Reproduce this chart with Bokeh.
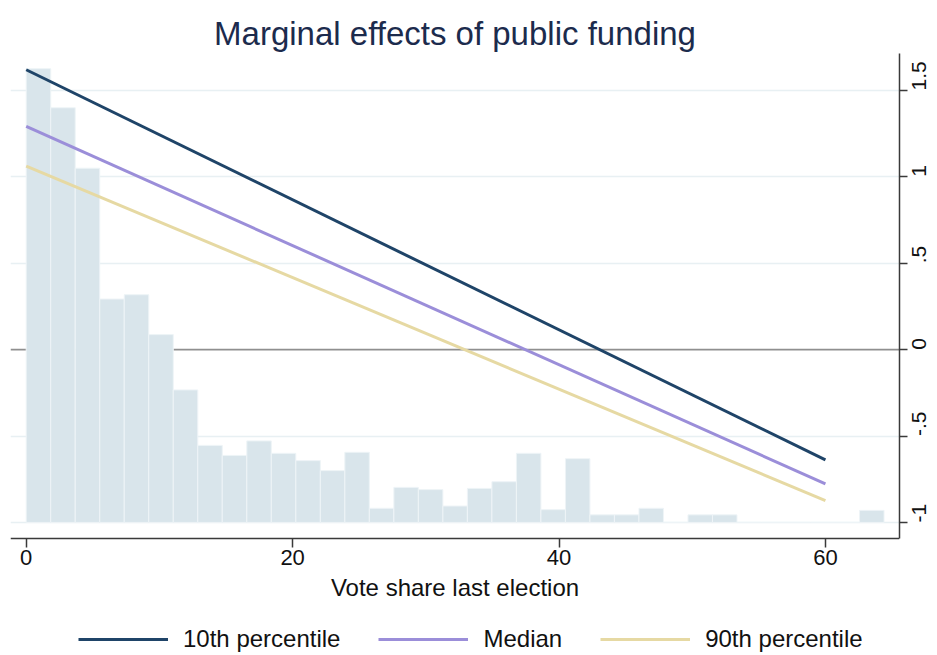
import math
from bokeh.plotting import figure
from bokeh.models import (Range1d, FixedTicker, Legend, LegendItem, Span,
                          CustomJSTickFormatter, ColumnDataSource)
from bokeh.embed import file_html
from bokeh.resources import INLINE

# ---------------- data ----------------
# histogram of vote share (bars drawn upward from y = -1 on the effect axis)
bin_start = 0.0
bin_width = 1.84
hist_heights = [2.626, 2.40, 2.05, 1.293, 1.318, 1.087, 0.767, 0.446, 0.388,
                0.472, 0.400, 0.358, 0.30, 0.406, 0.082, 0.203, 0.190, 0.095,
                0.197, 0.236, 0.400, 0.074, 0.369, 0.044, 0.044, 0.082, 0.0,
                0.044, 0.044, 0.0, 0.0, 0.0, 0.0, 0.0, 0.07]
hist_base = -1.0

# marginal effect lines
vote_share = [0, 60]
p10_effect = [1.62, -0.638]
median_effect = [1.292, -0.777]
p90_effect = [1.062, -0.874]

x_ticks = [0, 20, 40, 60]
y_ticks = [-1, -0.5, 0, 0.5, 1, 1.5]

title_text = "Marginal effects of public funding"
x_label = "Vote share last election"
series_names = ["10th percentile", "Median", "90th percentile"]
series_colors = ["#1f4468", "#9b8ed9", "#e6d9a3"]

FONT = "Liberation Sans"

# axis extents (plot region) and extra room below it for axis text + legend
x_lo, x_hi = -1.18, 65.56
y_lo, y_hi = -1.093, 1.714
y_room = -1.7643

# ---------------- figure ----------------
p = figure(width=936, height=654, output_backend="svg",
           toolbar_location=None,
           x_range=Range1d(x_lo, x_hi), y_range=Range1d(y_room, y_hi),
           y_axis_location="right", min_border_left=10, min_border_right=37,
           min_border_top=53, min_border_bottom=0)
p.outline_line_color = None
p.background_fill_color = "white"
p.border_fill_color = "white"

p.title.text = title_text
p.title.align = "center"
p.title.text_font = FONT
p.title.text_font_size = "33px"
p.title.text_font_style = "normal"
p.title.text_color = "#1c2b4d"
p.title.standoff = 4

lefts = [bin_start + i * bin_width for i in range(len(hist_heights))]
rights = [l + bin_width for l in lefts]
tops = [hist_base + h for h in hist_heights]
src = ColumnDataSource(dict(left=lefts, right=rights, top=tops,
                            bottom=[hist_base] * len(hist_heights)))
p.quad(left="left", right="right", top="top", bottom="bottom", source=src,
       fill_color="#d9e5eb", line_color="#eef4f7", line_width=1)

zero = Span(location=0, dimension="width", line_color="#8f8f8f",
            line_width=1.6, level="underlay")
p.add_layout(zero)

renderers = []
for vals, col in zip([p10_effect, median_effect, p90_effect], series_colors):
    r = p.line(vote_share, vals, line_color=col, line_width=3)
    renderers.append(r)

# axes
p.xgrid.visible = False
p.ygrid.ticker = FixedTicker(ticks=[t for t in y_ticks if t != 0])
p.ygrid.grid_line_color = "#e8f0f3"
p.ygrid.grid_line_width = 1.5

xa = p.xaxis[0]
xa.fixed_location = y_lo
xa.ticker = FixedTicker(ticks=x_ticks)
xa.axis_label = x_label
xa.axis_label_text_font = FONT
xa.axis_label_text_font_size = "24px"
xa.axis_label_text_font_style = "normal"
xa.axis_label_text_color = "#111111"
xa.axis_label_standoff = 6
xa.major_label_text_font = FONT
xa.major_label_text_font_size = "22px"
xa.major_label_text_color = "#111111"
xa.major_label_standoff = 2
xa.axis_line_color = "#3a3a3a"
xa.axis_line_width = 1.5
xa.major_tick_line_color = "#3a3a3a"
xa.major_tick_line_width = 1.5
xa.major_tick_out = 9
xa.major_tick_in = 0
xa.minor_tick_line_color = None

ya = p.yaxis[0]
ya.bounds = (y_lo, y_hi)
ya.ticker = FixedTicker(ticks=y_ticks)
ya.formatter = CustomJSTickFormatter(
    code="return tick.toString().replace(/^(-?)0\\./, '$1.');")
ya.major_label_orientation = math.pi / 2
ya.major_label_text_font = FONT
ya.major_label_text_font_size = "21px"
ya.major_label_text_color = "#111111"
ya.major_label_standoff = 12
ya.axis_line_color = "#3a3a3a"
ya.axis_line_width = 1.5
ya.major_tick_line_color = "#3a3a3a"
ya.major_tick_line_width = 1.5
ya.major_tick_out = 8
ya.major_tick_in = 0
ya.minor_tick_line_color = None

legend = Legend(items=[LegendItem(label=n, renderers=[r])
                       for n, r in zip(series_names, renderers)],
                orientation="horizontal", location=(68, 1))
legend.border_line_color = None
legend.background_fill_alpha = 0
legend.label_text_font = FONT
legend.label_text_font_size = "24px"
legend.label_text_color = "#111111"
legend.glyph_width = 90
legend.glyph_height = 26
legend.label_standoff = 15
legend.spacing = 38
legend.margin = 0
legend.padding = 0
p.add_layout(legend, "center")

open("out.html", "w").write(file_html(p, INLINE))
